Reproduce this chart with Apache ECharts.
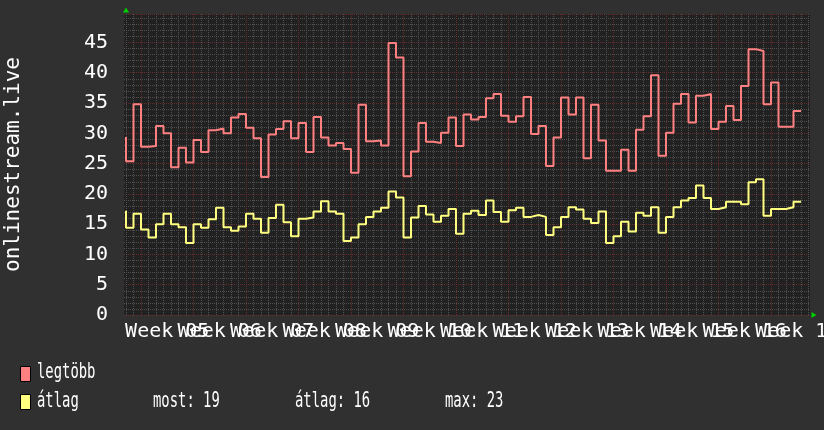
<!DOCTYPE html>
<html>
<head>
<meta charset="utf-8">
<script src="https://cdn.jsdelivr.net/npm/echarts@6/dist/echarts.min.js"></script>
<style>
html,body{margin:0;padding:0;background:#303030;}
#chart{width:824px;height:430px;}
</style>
</head>
<body>
<div id="chart"></div>
<script>
// Daily maximum ("legtöbb") values, one per day
const maxValues = [
  29.4, 25.4, 34.8, 27.8, 27.9, 31.2, 30.0, 24.4, 27.6, 25.2,
  28.9, 26.9, 30.5, 30.8, 30.0, 32.6, 33.2, 30.9, 29.2, 22.8,
  29.8, 30.7, 32.0, 29.2, 31.7, 26.9, 32.7, 29.3, 28.0, 28.4,
  27.4, 23.5, 34.7, 28.7, 28.8, 28.0, 44.9, 42.5, 22.9, 27.0,
  31.7, 28.6, 28.4, 30.1, 32.6, 27.9, 33.1, 32.3, 32.7, 35.8,
  36.5, 32.9, 31.9, 32.8, 36.0, 29.9, 31.2, 24.6, 29.3, 35.9,
  33.1, 35.9, 25.9, 34.7, 28.8, 23.8, 23.8, 27.3, 23.8, 30.6,
  32.8, 39.6, 26.3, 30.1, 34.9, 36.5, 31.8, 36.2, 36.5, 30.7,
  31.9, 34.5, 32.2, 37.8, 43.9, 43.6, 34.8, 38.4, 31.1, 31.1,
  33.7
];
// Daily average ("átlag") values
const avgValues = [
  17.2, 14.4, 16.7, 14.1, 12.8, 15.0, 16.7, 15.0, 14.5, 11.9,
  15.0, 14.4, 15.8, 17.7, 14.5, 13.9, 14.6, 16.7, 15.9, 13.6,
  16.0, 18.2, 15.3, 13.0, 15.9, 16.1, 17.1, 18.8, 17.1, 16.7,
  12.2, 12.8, 15.0, 16.2, 17.1, 17.7, 20.4, 19.4, 12.8, 16.1,
  18.0, 16.6, 15.4, 16.4, 17.5, 13.4, 16.7, 17.2, 16.5, 18.9,
  17.0, 15.4, 17.3, 17.7, 16.2, 16.5, 16.2, 13.2, 14.5, 16.2,
  17.8, 17.4, 15.9, 15.2, 17.1, 11.9, 13.0, 15.4, 13.8, 16.9,
  16.4, 17.8, 13.6, 16.2, 17.8, 18.9, 19.3, 21.4, 19.3, 17.5,
  17.8, 18.7, 18.7, 18.3, 21.9, 22.4, 16.4, 17.5, 17.5, 17.8,
  18.7
];
// Week labels on the time axis
const weekLabels = ["Week 05","Week 06","Week 07","Week 08","Week 09","Week 10","Week 11",
                    "Week 12","Week 13","Week 14","Week 15","Week 16","Week 17"];
const yTickLabels = ["0","5","10","15","20","25","30","35","40","45"];
const seriesNames = ["legtöbb", "átlag"];
const statLabels = ["most: 19", "átlag: 16", "max: 23"];

const RED = '#ff8080', YELLOW = '#ffff80';
const FONT = '"DejaVu Sans Mono", monospace';
const MAJOR = '#642c2c', MINOR = '#505050';

const firstWeekDay = 2;           // day index of first week boundary
const weekStarts = weekLabels.map((_, i) => firstWeekDay + 7 * i);
const weekMids = weekLabels.map((_, i) => firstWeekDay + 3.5 + 7 * i);
const evenMids = weekMids.filter((_, i) => i % 2 === 0);
const oddMids = weekMids.filter((_, i) => i % 2 === 1);
const dayIdx = maxValues.map((_, i) => i);
const minorDays = dayIdx.concat([91]).filter(d => !weekStarts.includes(d));
const weekName = v => weekLabels[Math.round((v - firstWeekDay - 3.5) / 7)];

const xMin = -0.267, xMax = 91.2;
const labelStyle = {color: '#ffffff', fontFamily: FONT, fontSize: 20, margin: 7,
  hideOverlap: false, showMinLabel: true, showMaxLabel: true, formatter: weekName};

const chart = echarts.init(document.getElementById('chart'), null, {renderer: 'canvas'});
chart.setOption({
  animation: false,
  backgroundColor: '#303030',
  grid: {left: 124, right: 14, top: 14, bottom: 115, show: true, backgroundColor: '#212121', borderWidth: 0, outerBoundsMode: 'none', containLabel: false},
  xAxis: [{
    type: 'value', min: xMin, max: xMax, position: 'bottom',
    axisLine: {show: true, lineStyle: {color: '#00d000', opacity: 0}, symbol: ['none', 'triangle'], symbolSize: [6, 5], symbolOffset: [0, 4]},
    axisTick: {show: false, customValues: weekStarts},
    splitLine: {show: true, lineStyle: {color: MAJOR, width: 1, type: [1, 1]}},
    axisLabel: Object.assign({customValues: evenMids}, labelStyle)
  }, {
    type: 'value', min: xMin, max: xMax, position: 'top',
    axisLine: {show: false}, axisLabel: {show: false},
    axisTick: {show: false, customValues: minorDays},
    splitLine: {show: true, lineStyle: {color: MINOR, width: 1, type: [1, 1]}}
  }, {
    type: 'value', min: xMin, max: xMax, position: 'bottom',
    axisLine: {show: false}, axisTick: {show: false}, splitLine: {show: false},
    axisLabel: Object.assign({customValues: oddMids}, labelStyle)
  }],
  yAxis: {
    type: 'value', min: 0, max: 49.7, interval: 5,
    name: 'onlinestream.live', nameLocation: 'middle', nameGap: 100,
    nameTextStyle: {color: '#ffffff', fontFamily: FONT, fontSize: 21},
    axisLine: {show: true, lineStyle: {color: '#00d000', opacity: 0}, symbol: ['none', 'triangle'], symbolSize: [6, 5], symbolOffset: [0, 4]},
    axisTick: {show: false},
    axisLabel: {color: '#ffffff', fontFamily: FONT, fontSize: 20, margin: 16,
      formatter: v => yTickLabels[Math.round(v / 5)] ?? ''},
    splitLine: {show: true, lineStyle: {color: MAJOR, width: 1, type: [1, 1]}},
    minorTick: {show: false, splitNumber: 5},
    minorSplitLine: {show: true, lineStyle: {color: MINOR, width: 1, type: [1, 1]}}
  },
  series: [{
    name: seriesNames[0], type: 'line', step: 'start', symbol: 'none',
    lineStyle: {color: RED, width: 2}, itemStyle: {color: RED},
    data: dayIdx.map(d => [d, maxValues[d]])
  }, {
    name: seriesNames[1], type: 'line', step: 'start', symbol: 'none',
    lineStyle: {color: YELLOW, width: 2}, itemStyle: {color: YELLOW},
    data: dayIdx.map(d => [d, avgValues[d]])
  }],
  graphic: [
    {type: 'rect', left: 20, top: 366, shape: {width: 10, height: 15}, style: {fill: RED, stroke: '#000', lineWidth: 1}},
    {type: 'text', x: 37, y: 373, scaleX: 0.66, style: {text: seriesNames[0], font: '21px ' + FONT, fill: '#ffffff', verticalAlign: 'middle'}},
    {type: 'rect', left: 20, top: 394, shape: {width: 10, height: 15}, style: {fill: YELLOW, stroke: '#000', lineWidth: 1}},
    {type: 'text', x: 37, y: 402, scaleX: 0.66, style: {text: seriesNames[1], font: '21px ' + FONT, fill: '#ffffff', verticalAlign: 'middle'}},
    {type: 'text', x: 153, y: 402, scaleX: 0.66, style: {text: statLabels[0], font: '21px ' + FONT, fill: '#ffffff', verticalAlign: 'middle'}},
    {type: 'text', x: 295, y: 402, scaleX: 0.66, style: {text: statLabels[1], font: '21px ' + FONT, fill: '#ffffff', verticalAlign: 'middle'}},
    {type: 'text', x: 445, y: 402, scaleX: 0.66, style: {text: statLabels[2], font: '21px ' + FONT, fill: '#ffffff', verticalAlign: 'middle'}}
  ]
});
</script>
</body>
</html>
